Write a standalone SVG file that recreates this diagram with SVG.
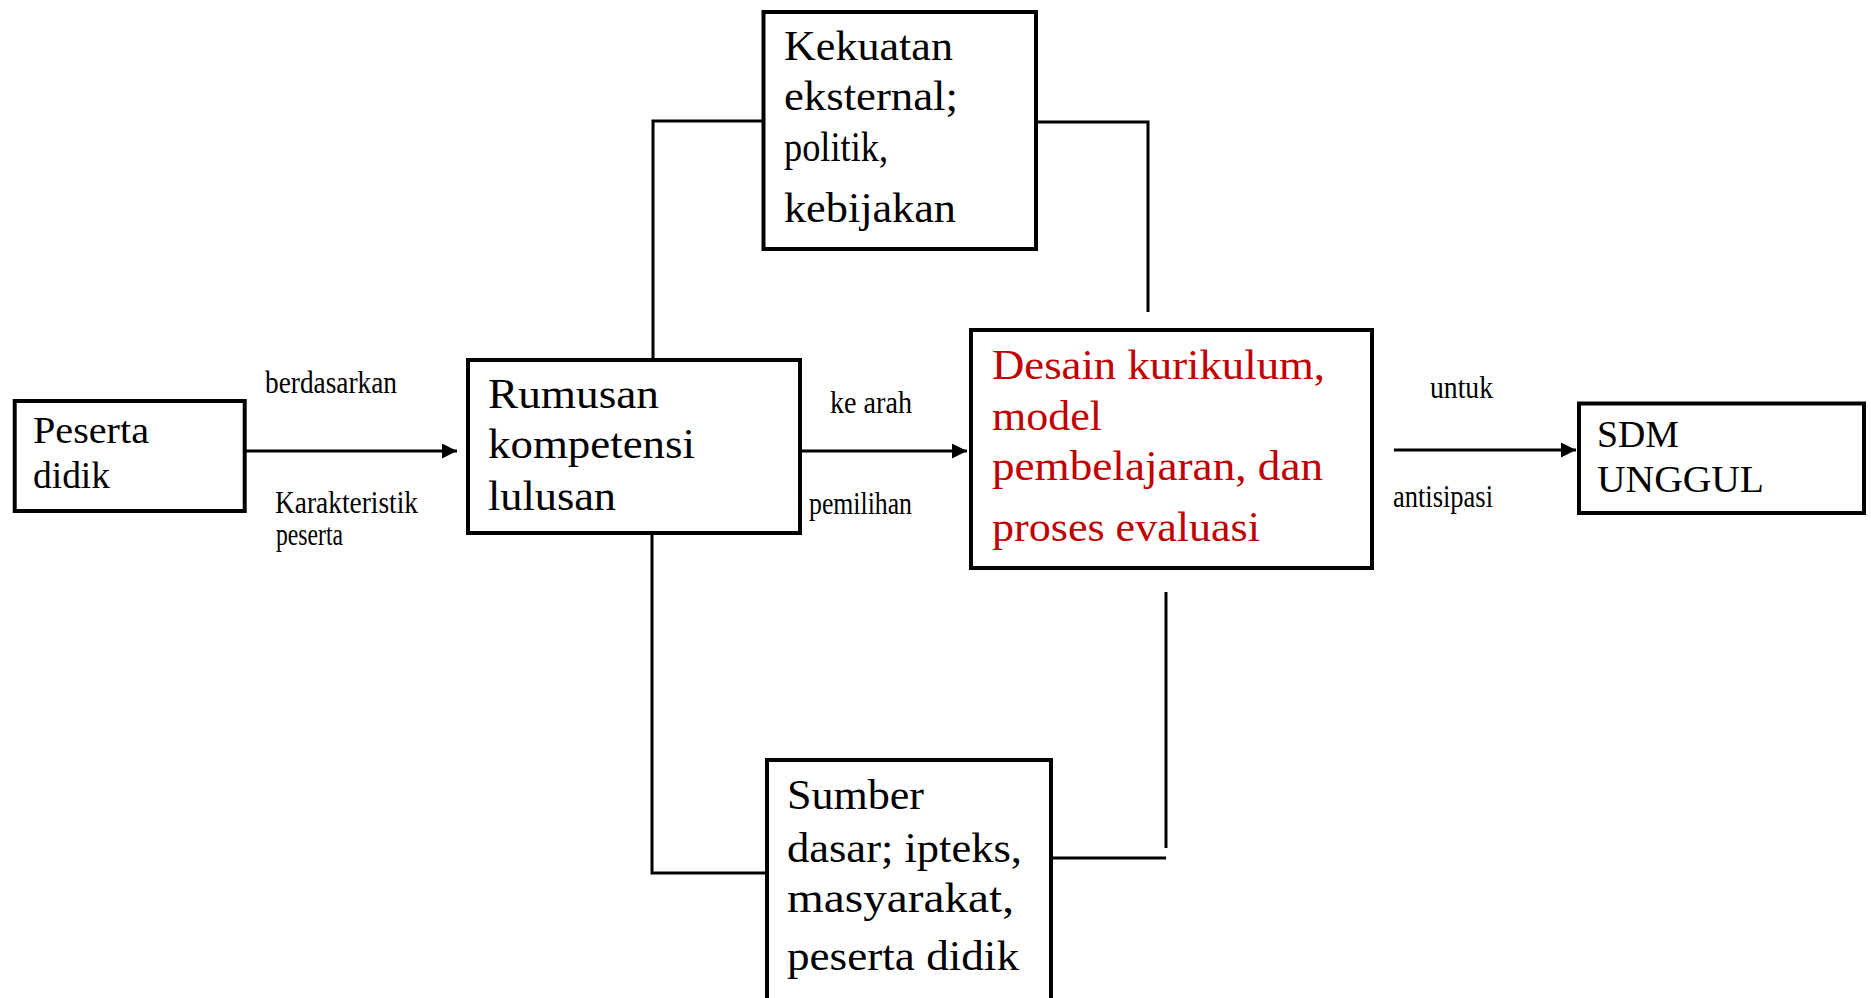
<svg xmlns="http://www.w3.org/2000/svg" width="1871" height="998" viewBox="0 0 1871 998">
<style>
.box{fill:#fff;stroke:#000;stroke-width:4}
.conn{fill:none;stroke:#000;stroke-width:3}
.t{font-family:"Liberation Serif","Times New Roman",serif;fill:#000}
.big{font-size:43px}
.mid{font-size:37px}
.red{fill:#C00000;font-size:42px}
.lbl{font-family:"Liberation Serif","Times New Roman",serif;font-size:31px;fill:#000}
</style>
<defs>
<marker id="ah" viewBox="0 0 15 15" refX="15" refY="7.5" markerWidth="15" markerHeight="15" markerUnits="userSpaceOnUse" orient="auto">
<path d="M0,0 L15,7.5 L0,15 z" fill="#000"/>
</marker>
</defs>
<rect width="1871" height="998" fill="#fff"/>
<g id="connectors">
<path class="conn" d="M653,360 L653,121 L763,121"/>
<path class="conn" d="M1037,122 L1148,122 L1148,312"/>
<path class="conn" d="M652,533 L652,873 L767,873"/>
<path class="conn" d="M1052,858 L1166,858"/>
<path class="conn" d="M1166,592 L1166,848"/>
<line class="conn" x1="246" y1="451" x2="457" y2="451" marker-end="url(#ah)"/>
<line class="conn" x1="801" y1="451" x2="967" y2="451" marker-end="url(#ah)"/>
<line class="conn" x1="1394" y1="450" x2="1576" y2="450" marker-end="url(#ah)"/>
<text class="lbl" x="265" y="393" textLength="132" lengthAdjust="spacingAndGlyphs">berdasarkan</text>
<text class="lbl" x="275" y="513" textLength="143" lengthAdjust="spacingAndGlyphs">Karakteristik</text>
<text class="lbl" x="276" y="545" textLength="67" lengthAdjust="spacingAndGlyphs">peserta</text>
<text class="lbl" x="830" y="413" textLength="82" lengthAdjust="spacingAndGlyphs">ke arah</text>
<text class="lbl" x="809" y="514" textLength="103" lengthAdjust="spacingAndGlyphs">pemilihan</text>
<text class="lbl" x="1430" y="398" textLength="63" lengthAdjust="spacingAndGlyphs">untuk</text>
<text class="lbl" x="1393" y="507" textLength="100" lengthAdjust="spacingAndGlyphs">antisipasi</text>
</g>
<g id="node-peserta">
<rect class="box" x="14.7" y="401" width="230" height="110"/>
<text class="t mid" x="33" y="443" textLength="116" lengthAdjust="spacingAndGlyphs">Peserta</text>
<text class="t mid" x="33" y="488" textLength="77" lengthAdjust="spacingAndGlyphs">didik</text>
</g>
<g id="node-rumusan">
<rect class="box" x="468" y="360" width="332" height="173"/>
<text class="t big" x="488" y="408" textLength="171" lengthAdjust="spacingAndGlyphs">Rumusan</text>
<text class="t big" x="488" y="458" textLength="207" lengthAdjust="spacingAndGlyphs">kompetensi</text>
<text class="t big" x="488" y="510" textLength="128" lengthAdjust="spacingAndGlyphs">lulusan</text>
</g>
<g id="node-kekuatan">
<rect class="box" x="763.5" y="12" width="272.5" height="237"/>
<text class="t big" x="784" y="60" textLength="169" lengthAdjust="spacingAndGlyphs">Kekuatan</text>
<text class="t big" x="784" y="110" textLength="174" lengthAdjust="spacingAndGlyphs">eksternal;</text>
<text class="t big" x="784" y="161" textLength="104" lengthAdjust="spacingAndGlyphs">politik,</text>
<text class="t big" x="784" y="222" textLength="172" lengthAdjust="spacingAndGlyphs">kebijakan</text>
</g>
<g id="node-desain">
<rect class="box" x="971" y="330" width="401" height="238"/>
<text class="t red" x="992" y="379" textLength="333" lengthAdjust="spacingAndGlyphs">Desain kurikulum,</text>
<text class="t red" x="992" y="430" textLength="110" lengthAdjust="spacingAndGlyphs">model</text>
<text class="t red" x="992" y="480" textLength="331" lengthAdjust="spacingAndGlyphs">pembelajaran, dan</text>
<text class="t red" x="992" y="541" textLength="268" lengthAdjust="spacingAndGlyphs">proses evaluasi</text>
</g>
<g id="node-sdm">
<rect class="box" x="1579" y="403.5" width="285" height="109.5"/>
<text class="t mid" x="1597" y="447" textLength="82" lengthAdjust="spacingAndGlyphs">SDM</text>
<text class="t mid" x="1597" y="492" textLength="167" lengthAdjust="spacingAndGlyphs">UNGGUL</text>
</g>
<g id="node-sumber">
<rect class="box" x="767" y="760" width="284" height="245"/>
<text class="t big" x="787" y="809" textLength="137" lengthAdjust="spacingAndGlyphs">Sumber</text>
<text class="t big" x="787" y="862" textLength="235" lengthAdjust="spacingAndGlyphs">dasar; ipteks,</text>
<text class="t big" x="787" y="912" textLength="227" lengthAdjust="spacingAndGlyphs">masyarakat,</text>
<text class="t big" x="787" y="970" textLength="232" lengthAdjust="spacingAndGlyphs">peserta didik</text>
</g>
</svg>
